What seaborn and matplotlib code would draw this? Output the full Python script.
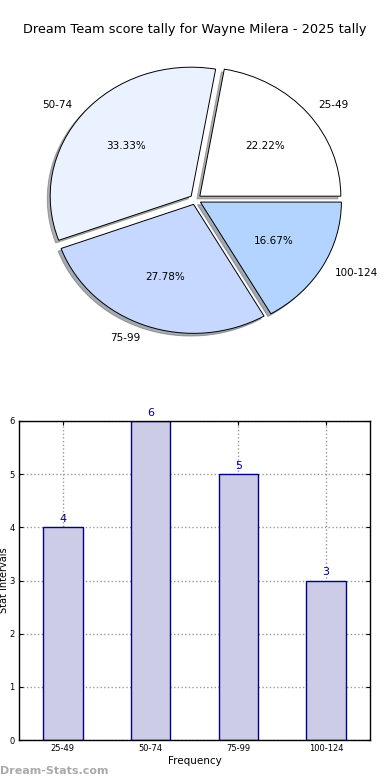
import matplotlib
matplotlib.use("Agg")
import matplotlib.pyplot as plt
import seaborn as sns
import pandas as pd

categories = ["25-49", "50-74", "75-99", "100-124"]
counts = [4, 6, 5, 3]
pie_colors = ["#ffffff", "#eaf1ff", "#c6d8ff", "#b2d4ff"]
title = "Dream Team score tally for Wayne Milera - 2025 tally"

sns.set_style("white")
plt.rcParams['font.family'] = ['DejaVu Sans']
plt.rcParams['text.color'] = 'black'
plt.rcParams['axes.labelcolor'] = 'black'
plt.rcParams['xtick.color'] = 'black'
plt.rcParams['ytick.color'] = 'black'

fig = plt.figure(figsize=(3.9, 7.8), dpi=100)

# Pie chart (slightly squashed vertically as in the reference)
axp = fig.add_axes([45.5/390, 1-349.5/780, 300/390, 300/780])
axp.pie(counts, labels=categories, colors=pie_colors, autopct='%.2f%%',
        startangle=0, counterclock=True, explode=[0.04]*4,
        shadow={'ox': -0.015, 'oy': -0.015, 'shade': 0.6},
        wedgeprops=dict(edgecolor='black', linewidth=0.7),
        textprops=dict(fontsize=7.5, color='black'))
axp.set_aspect('auto')
axp.set_xlim(-150/141, 150/141)
axp.set_ylim(-150/129, 150/129)
axp.axis('off')

fig.text(0.5, 1-30/780, title, ha='center', va='center', fontsize=9.3, color='black')

# Bar chart
axb = fig.add_axes([19/390, 1-740/780, 351/390, 319/780])
df = pd.DataFrame({"interval": categories, "count": counts})
sns.barplot(data=df, x="interval", y="count", width=0.45, color="#cccce6",
            saturation=1, edgecolor="#00008b", linewidth=1, ax=axb, zorder=2)
axb.set_xlim(-0.5, 3.5)
axb.set_ylim(0, 6)
axb.set_yticks(range(0, 7))
axb.grid(True, linestyle=':', color='#999999', linewidth=1, zorder=0)
axb.set_axisbelow(True)
for s in axb.spines.values():
    s.set_color('black')
    s.set_linewidth(1)
axb.tick_params(axis='both', labelsize=6, direction='in', length=3,
                top=True, right=True, bottom=True, left=True, pad=3)
axb.set_xlabel("Frequency", fontsize=7.5, labelpad=2)
axb.set_ylabel("Stat Intervals", fontsize=7)
axb.yaxis.set_label_coords(-0.029, 0.5)
for i, v in enumerate(counts):
    axb.text(i, v + 0.06, str(v), ha='center', va='bottom', fontsize=8, color='#000080')

fig.text(0.0, 1-771/780, "Dream-Stats.com", ha='left', va='center', fontsize=8,
         color='#aaaaaa', fontweight='bold')

fig.savefig("out.png", dpi=100)
